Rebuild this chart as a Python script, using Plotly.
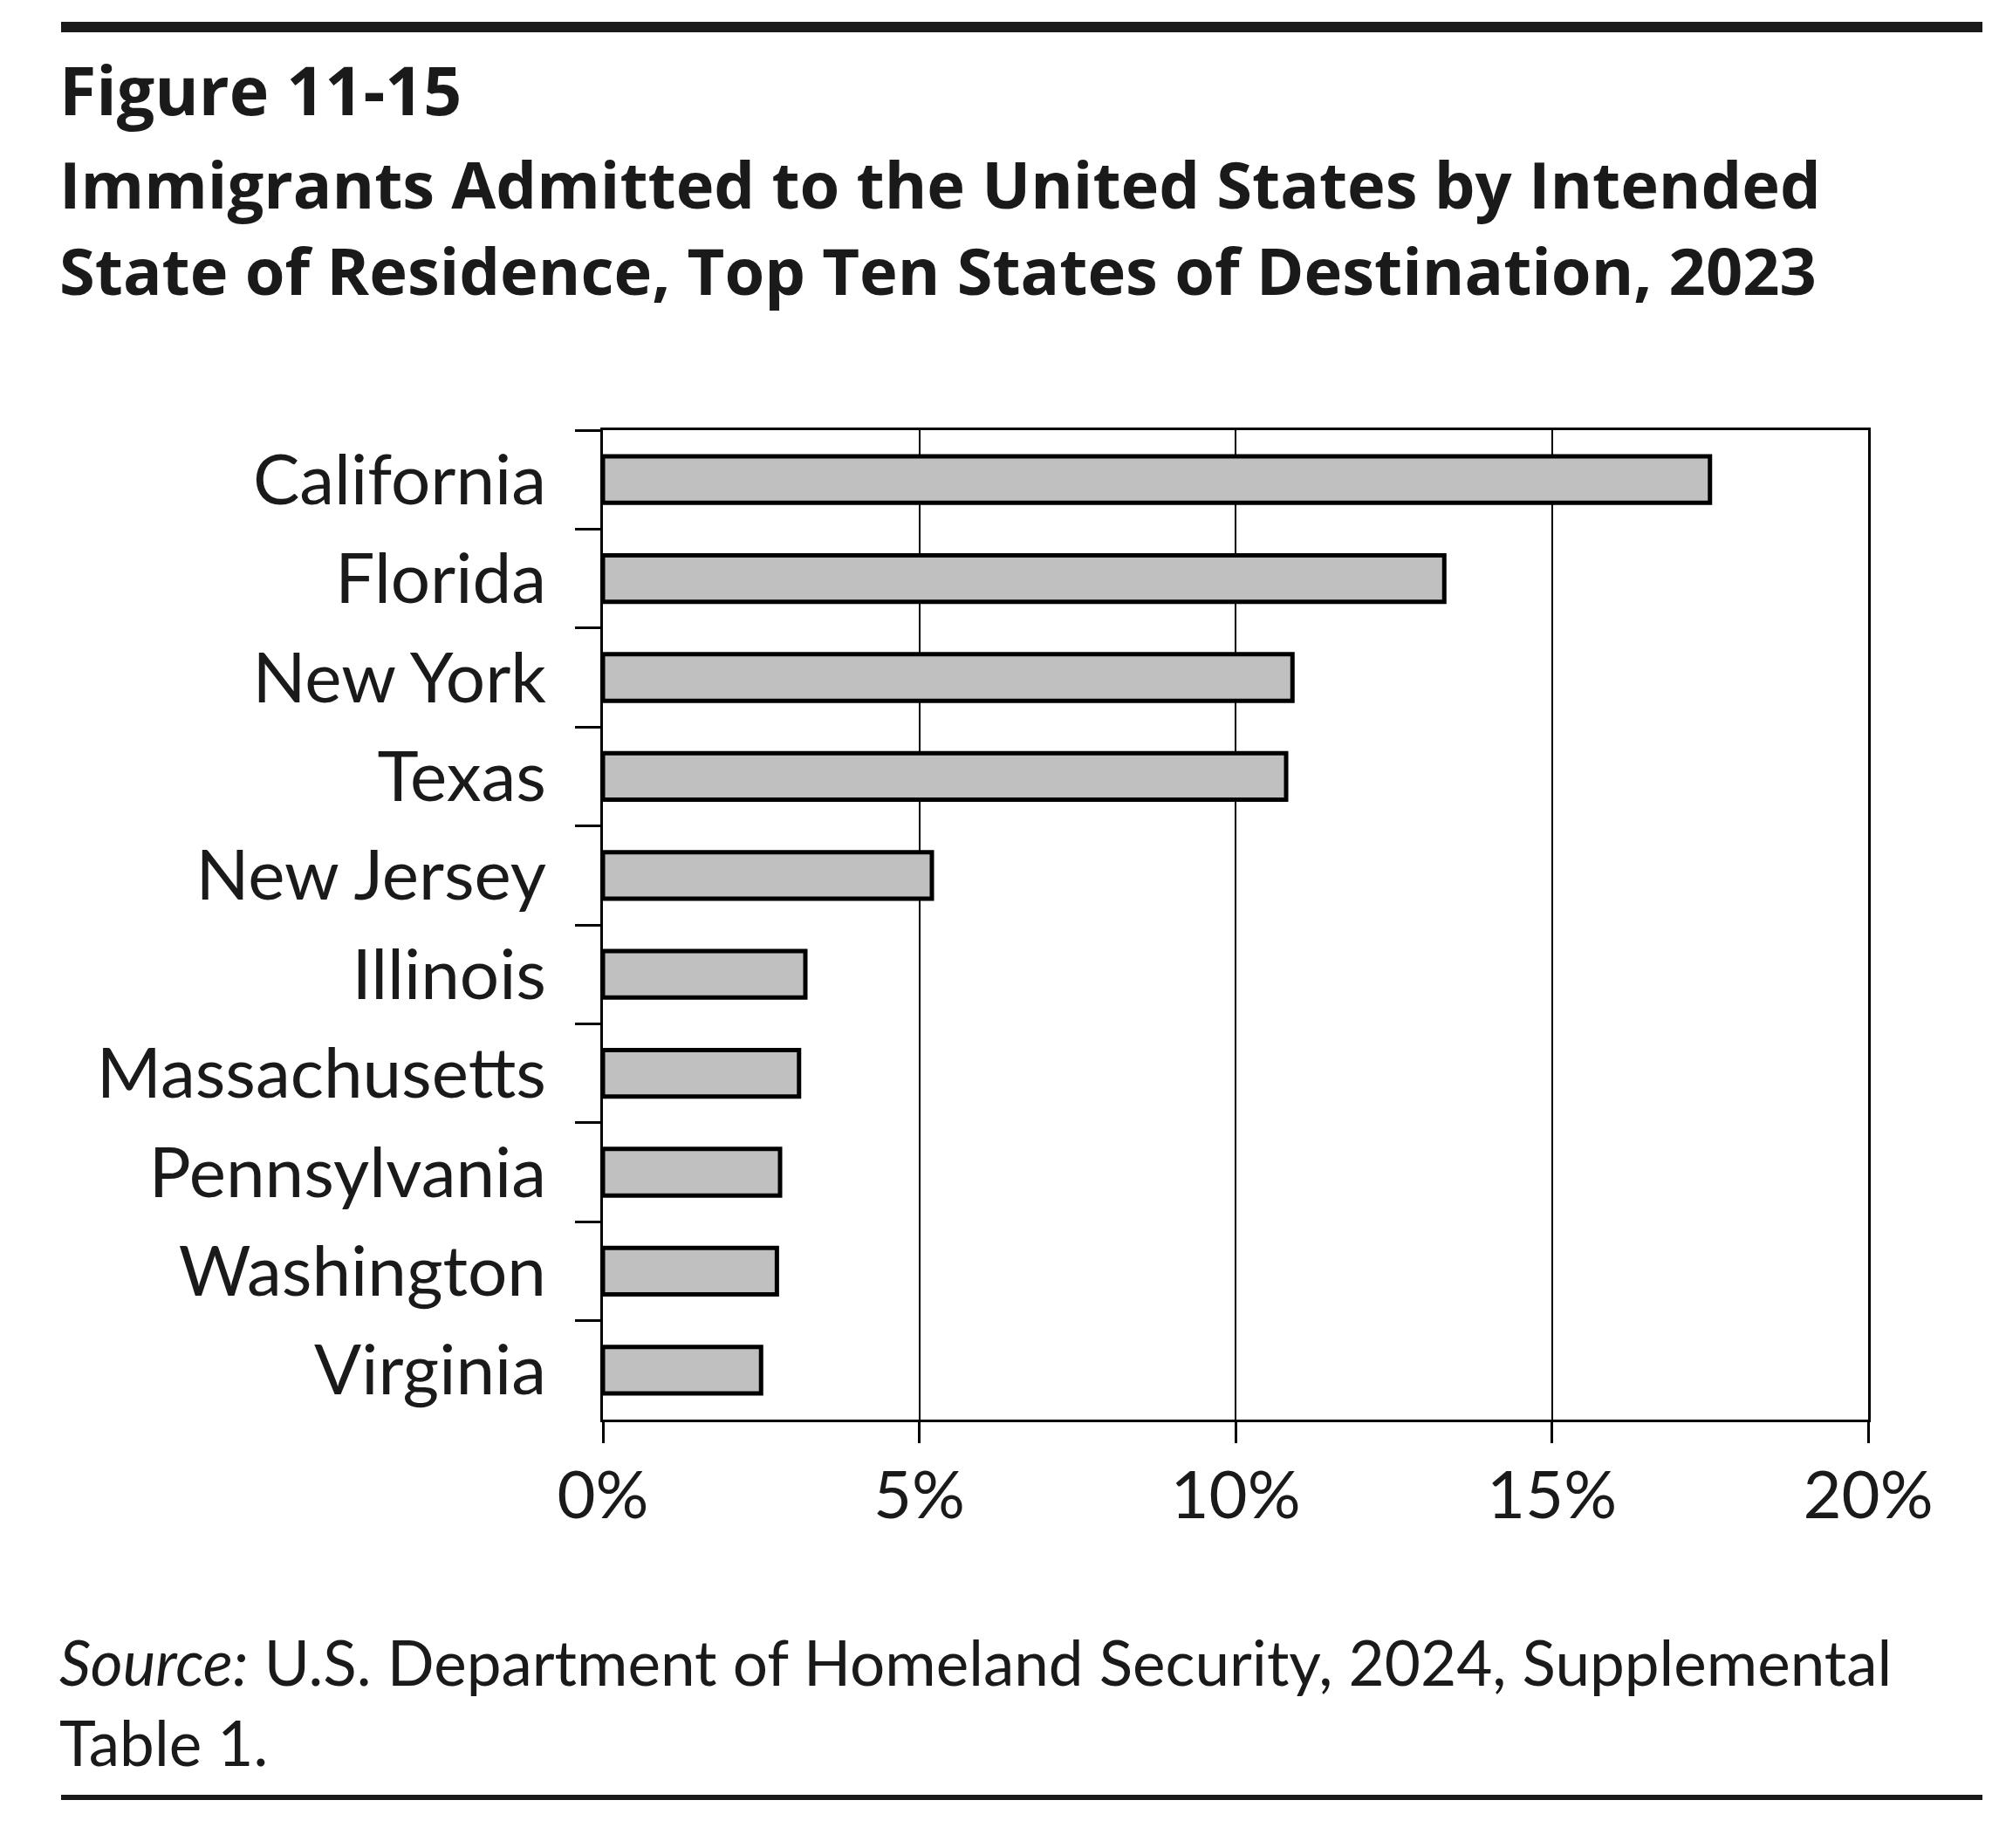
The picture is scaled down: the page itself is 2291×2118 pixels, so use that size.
import plotly.graph_objects as go

# ---- data ----
states = ["California", "Florida", "New York", "Texas", "New Jersey",
          "Illinois", "Massachusetts", "Pennsylvania", "Washington", "Virginia"]
shares = [17.5, 13.3, 10.9, 10.8, 5.2, 3.2, 3.1, 2.8, 2.75, 2.5]
x_ticks = [0, 5, 10, 15, 20]
x_tick_labels = ["0%", "5%", "10%", "15%", "20%"]

fig_label = "Figure 11-15"
title_line1 = "Immigrants Admitted to the United States by Intended"
title_line2 = "State of Residence, Top Ten States of Destination, 2023"
source_text = "<i>Source:</i> U.S. Department of Homeland Security, 2024, Supplemental<br>Table 1."

# ---- layout geometry (page pixels; the page body adds an 8px offset) ----
W, H = 2291, 2118
OFF = 8
L, R, T, B = 691 - OFF, 2141 - OFF, 493 - OFF, 1627 - OFF
pw, ph = R - L, B - T

def px(x):
    return (x - OFF - L) / pw

def py(y):
    return (B - (y - OFF)) / ph

TXT = "#1a1a1a"
FONT = "Lato, 'Open Sans', sans-serif"
BOLD = "'Open Sans', Lato, sans-serif"

fig = go.Figure(go.Bar(
    x=shares, y=states, orientation="h",
    marker=dict(color="#c0c0c0", line=dict(color="black", width=5)),
))

fig.update_layout(
    width=W, height=H,
    margin=dict(l=L, r=W - R, t=T, b=H - B, pad=0),
    paper_bgcolor="white", plot_bgcolor="white",
    bargap=0.53, showlegend=False,
    font=dict(family=FONT, color="black"),
)

fig.update_xaxes(
    range=[0, 20], tickvals=x_ticks, ticktext=x_tick_labels,
    ticks="outside", ticklen=24, tickwidth=3, tickcolor="black",
    showline=True, linewidth=3, linecolor="black", mirror=True,
    showgrid=True, gridcolor="black", gridwidth=1.5,
    zeroline=False, tickfont=dict(family=FONT, size=76, color=TXT),
    ticklabelstandoff=-5,
)
fig.update_yaxes(
    type="category", autorange="reversed",
    ticks="outside", tickson="boundaries", ticklen=29, tickwidth=3, tickcolor="black",
    showline=True, linewidth=3, linecolor="black", mirror=True,
    showgrid=False, tickfont=dict(family=FONT, size=80, color=TXT),
    ticklabelstandoff=46,
)

ann = [
    dict(text="<b>" + fig_label + "</b>", x=px(66), y=py(103), size=77, fam=BOLD),
    dict(text="<b>" + title_line1 + "</b>", x=px(66), y=py(210), size=74, fam=BOLD),
    dict(text="<b>" + title_line2 + "</b>", x=px(66), y=py(309), size=74, fam=BOLD),
    dict(text=source_text, x=px(66), y=py(1951), size=71, fam=FONT),
]
for a in ann:
    fig.add_annotation(
        text=a["text"], x=a["x"], y=a["y"], xref="paper", yref="paper",
        xanchor="left", yanchor="middle", align="left", showarrow=False,
        font=dict(family=a["fam"], size=a["size"], color=TXT),
    )

fig.add_shape(type="line", xref="paper", yref="paper",
              x0=px(70), x1=px(2272), y0=py(31), y1=py(31),
              line=dict(color=TXT, width=12))
fig.add_shape(type="line", xref="paper", yref="paper",
              x0=px(70), x1=px(2272), y0=py(2060), y1=py(2060),
              line=dict(color=TXT, width=6))

fig.write_html("out.html")
